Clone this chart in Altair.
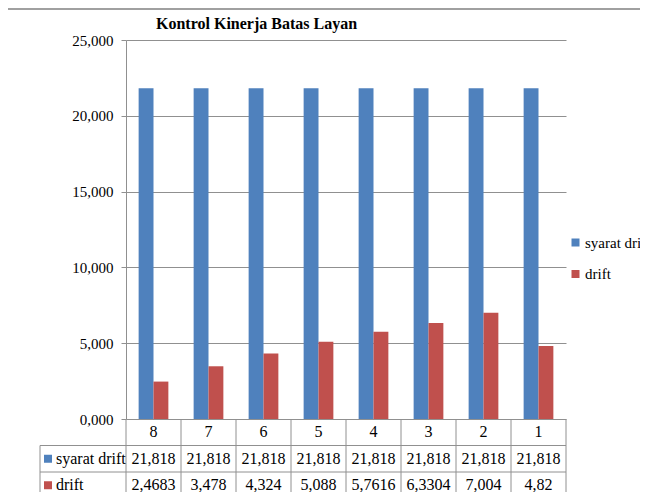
import altair as alt
import pandas as pd

cats = ["8", "7", "6", "5", "4", "3", "2", "1"]
series_names = ["syarat drift", "drift"]
syarat_drift = [21.818, 21.818, 21.818, 21.818, 21.818, 21.818, 21.818, 21.818]
drift = [2.4683, 3.478, 4.324, 5.088, 5.7616, 6.3304, 7.004, 4.82]
y_ticks = [0, 5, 10, 15, 20, 25]

BLUE = "#4F81BD"
RED = "#C0504D"
GRID = "#909090"
FONT = "Liberation Serif, Times New Roman, serif"
W, H = 440, 379
ROW_RANGE = [H, H + 79.5]

rows = []
for c, s, d in zip(cats, syarat_drift, drift):
    rows.append({"cat": c, "series": "syarat drift", "value": s, "label": str(s).replace(".", ",")})
    rows.append({"cat": c, "series": "drift", "value": d, "label": str(d).replace(".", ",")})
df = pd.DataFrame(rows)

xscale = alt.Scale(paddingInner=0, paddingOuter=0)
xenc = alt.X("cat:N", sort=cats, scale=xscale, axis=None)

bars = alt.Chart(df).mark_bar().encode(
    x=xenc,
    xOffset=alt.XOffset("series:N", sort=series_names,
                        scale=alt.Scale(paddingInner=0, paddingOuter=0.85)),
    y=alt.Y("value:Q", scale=alt.Scale(domain=[0, 25]),
            axis=alt.Axis(values=y_ticks, title=None,
                          labelExpr="replace(format(datum.value, '.3f'), '.', ',')",
                          grid=True, gridColor=GRID, domainColor=GRID, tickColor=GRID,
                          tickSize=5, labelFont=FONT, labelFontSize=15, labelColor="black",
                          labelPadding=8)),
    color=alt.Color("series:N", sort=series_names,
                    scale=alt.Scale(domain=series_names, range=[BLUE, RED]),
                    legend=alt.Legend(title=None, orient="none", legendX=442, legendY=195,
                                      symbolType="square", symbolSize=64, symbolStrokeWidth=0,
                                      labelFont=FONT, labelFontSize=15, labelColor="black",
                                      rowPadding=15.5, labelOffset=2, labelLimit=200)),
)

# table
row_order = ["header", "syarat drift", "drift"]
trows = []
for c in cats:
    trows.append({"cat": c, "row": "header", "text": c})
for r in rows:
    trows.append({"cat": r["cat"], "row": r["series"], "text": r["label"]})
tdf = pd.DataFrame(trows)
cat_df = pd.DataFrame({"cat": cats})
lab_df = pd.DataFrame({"row": series_names, "series": series_names})


def yrow(band=None):
    kw = {}
    if band is not None:
        kw["bandPosition"] = band
    return alt.Y("row:N", sort=row_order,
                 scale=alt.Scale(domain=row_order, paddingInner=0, paddingOuter=0, range=ROW_RANGE),
                 axis=None, **kw)


cells = alt.Chart(tdf).mark_text(font=FONT, fontSize=16, color="black").encode(
    x=xenc, y=yrow(), text="text:N",
)
vlines = alt.Chart(cat_df).mark_rule(color=GRID).encode(
    x=alt.X("cat:N", sort=cats, scale=xscale, axis=None, bandPosition=0),
    y=alt.value(ROW_RANGE[0]), y2=alt.value(ROW_RANGE[1] + 10),
)
rline = alt.Chart(cat_df.iloc[:1]).mark_rule(color=GRID).encode(
    x=alt.value(W), y=alt.value(ROW_RANGE[0]), y2=alt.value(ROW_RANGE[1] + 10),
)
hlines = alt.Chart(lab_df).mark_rule(color=GRID).encode(
    y=yrow(0), x=alt.value(-86), x2=alt.value(W),
)
leftline = alt.Chart(lab_df.iloc[:1]).mark_rule(color=GRID).encode(
    y=yrow(0), y2=alt.value(ROW_RANGE[1] + 10), x=alt.value(-86),
)
labels = alt.Chart(lab_df).mark_text(font=FONT, fontSize=16, color="black", align="left").encode(
    y=yrow(), x=alt.value(-70), text="row:N",
)
squares = alt.Chart(lab_df).mark_square(size=64, opacity=1).encode(
    y=yrow(), x=alt.value(-78),
    fill=alt.Fill("series:N", scale=alt.Scale(domain=series_names, range=[BLUE, RED]), legend=None),
)
topline = alt.Chart(cat_df.iloc[:1]).mark_rule(color="#a0a0a0", strokeWidth=2).encode(
    x=alt.value(-118), x2=alt.value(522), y=alt.value(-31),
)

chart = alt.layer(
    bars, cells, vlines, rline, hlines, leftline, labels, squares, topline
).resolve_scale(y="independent").properties(
    width=W, height=H,
    autosize=alt.AutoSizeParams(type="none"),
    padding={"left": 118, "top": 32, "right": 74, "bottom": 73},
    background="white",
    title=alt.Title("Kontrol Kinerja Batas Layan", anchor="start", frame="group", dx=30, dy=24,
                    font=FONT, fontSize=16, fontWeight="bold", color="black", offset=0),
).configure_view(strokeWidth=0)

chart.save("out.html", embed_options={"renderer": "svg", "actions": False})
